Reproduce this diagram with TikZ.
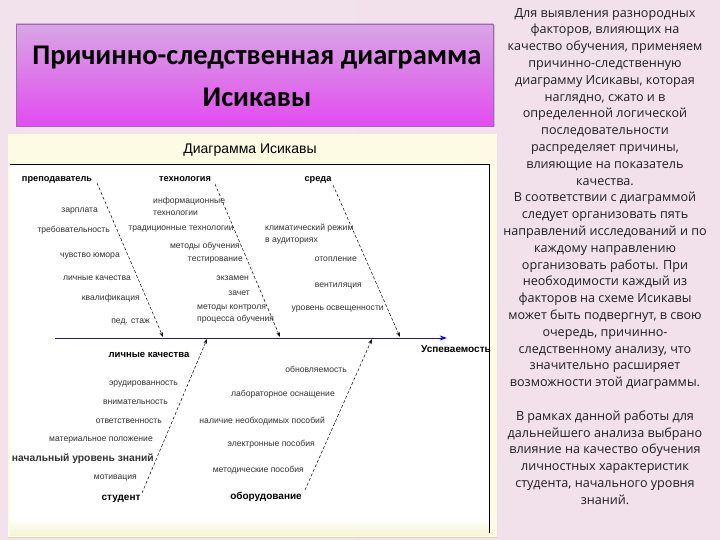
\documentclass[tikz,border=0pt]{standalone}
\usepackage{fontspec}
\setmainfont{Liberation Sans}
\newfontfamily\titlefont{Carlito}
\newfontfamily\sidefont{Open Sans}
\usetikzlibrary{arrows.meta,shadows}
\definecolor{bgL}{HTML}{F1E2EB}
\definecolor{bgM}{HTML}{FAF7F8}
\definecolor{bgR}{HTML}{F2E1EA}
\definecolor{boxtop}{HTML}{D8A6E4}
\definecolor{boxbot}{HTML}{E24CF0}
\definecolor{boxedge}{HTML}{9C6AAE}
\definecolor{panel}{HTML}{FDFBE4}
\definecolor{panelbot}{HTML}{F4F4D2}
\definecolor{panelline}{HTML}{D8DCB0}
\definecolor{subtxt}{HTML}{333333}
\definecolor{spinec}{HTML}{1C1C8C}
\definecolor{sidetxt}{HTML}{1E1E1E}
\tikzset{
  sub/.style={font=\fontsize{8.6}{9}\selectfont, inner sep=0pt, text=subtxt, anchor=base east},
  sub2/.style={font=\fontsize{8.6}{11.5}\selectfont, inner sep=0pt, text=subtxt, align=left, anchor=west},
  cat/.style={font=\bfseries\fontsize{9.2}{10}\selectfont, inner sep=0pt, anchor=base},
  bone/.style={densely dashed, line width=0.5pt, -{Stealth[length=5pt,width=3.5pt]}},
  spine/.style={line width=0.9pt, draw=spinec, -{Stealth[length=7pt,width=5pt,color=blue]}},
}
\begin{document}
\begin{tikzpicture}[x=1pt,y=-1pt]
\useasboundingbox (0,0) rectangle (720,540);
% background
\shade[left color=bgL, middle color=bgM, right color=bgR] (0,0) rectangle (720,540);
% title box
\shade[top color=boxtop, bottom color=boxbot, draw=boxedge, line width=0.4pt, drop shadow={opacity=0.35, shadow xshift=1.5pt, shadow yshift=-1.5pt}] (16,24) rectangle (493,126);
\node[font=\titlefont\bfseries\fontsize{28.5}{34}\selectfont, inner sep=0pt, anchor=base] (t1) at (257,65) {Причинно-следственная диаграмма};
\node[font=\titlefont\bfseries\fontsize{28.5}{34}\selectfont, inner sep=0pt, anchor=base] (t2) at (257,107) {Исикавы};
% panel
\fill[panel] (8,134) rectangle (497,538);
\fill[white] (10,164) rectangle (489,518);
\shade[top color=white, bottom color=panelbot] (10,518) rectangle (489,535);
\draw[panelline, line width=1pt] (8,537) -- (497,537);
\draw[black, line width=0.8pt] (10,164) -- (489,164) -- (489,533);
\node[font=\fontsize{14}{16}\selectfont, inner sep=0pt, anchor=base] (dtitle) at (250,154) {Диаграмма Исикавы};
% spine
\coordinate (spL) at (55,338);
\node[inner sep=0pt, minimum size=0pt] (spR) at (447,338) {};
\draw[spine] (spL) -- (spR);
\node[cat, font=\bfseries\fontsize{10}{11}\selectfont] (res) at (456,352) {Успеваемость};
% top categories
\node[cat] (c1) at (57,181.5) {преподаватель};
\node[cat] (c2) at (185,181.5) {технология};
\node[cat] (c3) at (318,181.5) {среда};
\coordinate (t1s) at (97,183); \coordinate (t1e) at (163,337);
\coordinate (t2s) at (215,184); \coordinate (t2e) at (280,337);
\coordinate (t3s) at (333,185); \coordinate (t3e) at (400,337);
\draw[bone] (t1s) -- (t1e);
\draw[bone] (t2s) -- (t2e);
\draw[bone] (t3s) -- (t3e);
% bottom categories
\node[cat, font=\bfseries\fontsize{10}{11}\selectfont] (c4) at (121,500.5) {студент};
\node[cat, font=\bfseries\fontsize{10}{11}\selectfont] (c5) at (266,499.5) {оборудование};
\coordinate (b1s) at (142,493); \coordinate (b1e) at (207,339);
\coordinate (b2s) at (305,490); \coordinate (b2e) at (372,339);
\draw[bone] (b1s) -- (b1e);
\draw[bone] (b2s) -- (b2e);
% teacher
\node[sub] (p1) at (98,212) {зарплата};
\node[sub] (p2) at (110,233) {требовательность};
\node[sub] (p3) at (120,258) {чувство юмора};
\node[sub] (p4) at (131,280) {личные качества};
\node[sub] (p5) at (140,300) {квалификация};
\node[sub] (p6) at (150,323) {пед. стаж};
% technology
\node[sub2] (q1) at (153,206.5) {информационные\\технологии};
\node[sub] (q2) at (234,230) {традиционные технологии};
\node[sub] (q3) at (240,248) {методы обучения};
\node[sub] (q4) at (243,261) {тестирование};
\node[sub] (q5) at (249,280) {экзамен};
\node[sub] (q6) at (250,295) {зачет};
\node[sub2] (q7) at (197,314) {методы контроля\\процесса обучения};
% environment
\node[sub2] (r1) at (265,234) {климатический режим\\в аудиториях};
\node[sub] (r2) at (357,261) {отопление};
\node[sub] (r3) at (362,287) {вентиляция};
\node[sub] (r4) at (384,310) {уровень освещенности};
% student
\node[cat, font=\bfseries\fontsize{9.5}{10}\selectfont] (s0) at (149,357.5) {личные качества};
\node[sub] (s1) at (178,385) {эрудированность};
\node[sub] (s2) at (168,404) {внимательность};
\node[sub] (s3) at (162,423) {ответственность};
\node[sub] (s4) at (153,441) {материальное положение};
\node[sub, font=\bfseries\fontsize{10.3}{11}\selectfont] (s5) at (154,461.5) {начальный уровень знаний};
\node[sub] (s6) at (137,479) {мотивация};
% equipment
\node[sub] (e1) at (347,372) {обновляемость};
\node[sub] (e2) at (335,396) {лабораторное оснащение};
\node[sub] (e3) at (325,423) {наличие необходимых пособий};
\node[sub] (e4) at (315,446) {электронные пособия};
\node[sub] (e5) at (304,472) {методические пособия};
% side text
\node[font=\sidefont\fontsize{12.6}{16.8}\selectfont, text=sidetxt, align=center, inner sep=0pt, anchor=north] (side) at (605,8) {Для выявления разнородных\\факторов, влияющих на\\качество обучения, применяем\\причинно-следственную\\диаграмму Исикавы, которая\\наглядно, сжато и в\\определенной логической\\последовательности\\распределяет причины,\\влияющие на показатель\\качества.\\В соответствии с диаграммой\\следует организовать пять\\направлений исследований и по\\каждому направлению\\организовать работы. При\\необходимости каждый из\\факторов на схеме Исикавы\\может быть подвергнут, в свою\\очередь, причинно-\\следственному анализу, что\\значительно расширяет\\возможности этой диаграммы.\\[16.8pt]В рамках данной работы для\\дальнейшего анализа выбрано\\влияние на качество обучения\\личностных характеристик\\студента, начального уровня\\знаний.};
\end{tikzpicture}
\end{document}
